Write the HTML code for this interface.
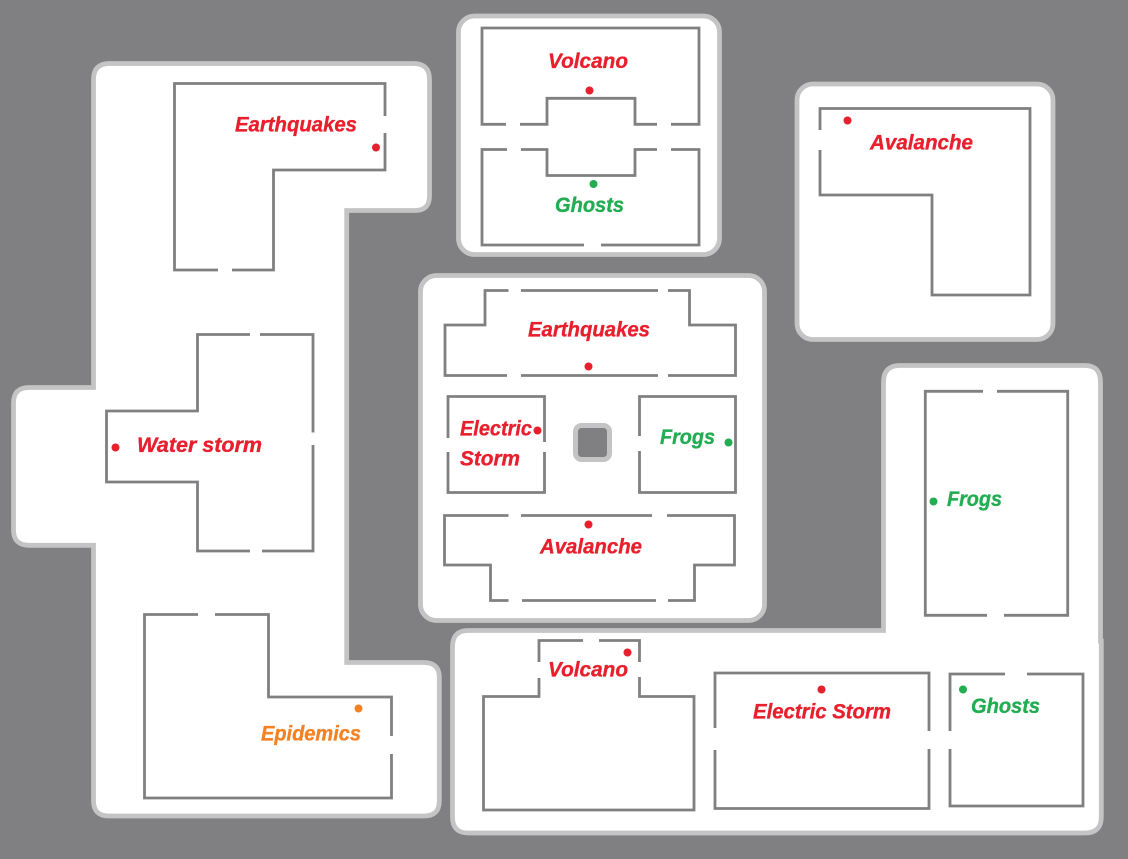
<!DOCTYPE html>
<html><head><meta charset="utf-8"><title>Map</title>
<style>
html,body{margin:0;padding:0;background:#807f81;width:1128px;height:859px;overflow:hidden}
svg{display:block}
.b{fill:#fff;stroke:#c4c4c5;stroke-width:4.800}
.w{fill:none;stroke:#808082;stroke-width:2.800}
text{font-family:"Liberation Sans",sans-serif;font-weight:bold;font-style:italic;font-size:21px}
g.r text,g.g text,text.o{stroke-width:.35}
g.r text{stroke:#e81f2d}g.g text{stroke:#22ad52}text.o{stroke:#f48224}
.r{fill:#e81f2d}.g{fill:#22ad52}.o{fill:#f48224}
</style></head><body>
<svg width="1128" height="859" viewBox="0 0 1128 859" xmlns="http://www.w3.org/2000/svg">
<rect width="1128" height="859" fill="#807f81"/>
<path class="b" d="M93.500,387.500V79.500Q93.500,63.500 109.500,63.500H413.500Q429.500,63.500 429.500,79.500V196Q429.500,210.500 415,210.500H346.700V662.500H424Q439.300,662.500 439.300,677.500V801Q439.300,816 424,816H109Q93.500,816 93.500,801V545.300H29Q13.500,545.300 13.500,530V403Q13.500,387.500 29,387.500Z"/>
<rect class="b" x="458.500" y="16" width="261" height="238.500" rx="16"/>
<rect class="b" x="797" y="84" width="256" height="255.500" rx="16"/>
<rect class="b" x="420.500" y="275.500" width="344" height="345" rx="16"/>
<path class="b" d="M883.500,630.500V382Q883.500,365.500 900,365.500H1085Q1100.500,365.500 1100.500,382V641H1101.300V817Q1101.300,833 1085,833H468Q452.500,833 452.500,817V647Q452.500,630.500 468,630.500Z"/>
<rect x="575.500" y="425.500" width="34" height="34" rx="6" fill="#808082" stroke="#c4c4c5" stroke-width="5"/>

<path class="w" d="M218,270H174.500V83.500H385V116M385,133V170H273.500V270H232"/>
<path class="w" d="M250,334.500H197.500V411H106.500V482H197.500V551H250M262,551H313V445M313,432.500V334.500H260"/>
<path class="w" d="M198,614.500H144.500V798H391.500V754M391.500,736V697H268.500V614.500H215"/>

<path class="w" d="M506,124.300H482V28H699V124.300H671M657,124.300H635V98.300H547V124.300H520"/>
<path class="w" d="M507,149.500H482V245H584M601,245H699V149.500H671M657,149.500H635V175.500H547V149.500H521"/>

<path class="w" d="M820,130V108.500H1030V295H932V195H820V150"/>

<path class="w" d="M508.500,290.500H485V325H445V375.500H507M521,375.500H658M668,375.500H735.500V325H689.500V290.500H668M658,290.500H521"/>
<path class="w" d="M448,438V396.500H544.500V442M544.500,452V492.500H448V452"/>
<path class="w" d="M639.500,436V396.500H735.500V492.500H639.500V451"/>
<path class="w" d="M508.500,515.500H444.500V565H490.500V600.500H508.500M522,600.500H656M668,600.500H694.500V565H734.500V515.500H667M652,515.500H521"/>

<path class="w" d="M983,391.300H925.300V615.300H987M1004,615.300H1067.700V391.300H997"/>

<path class="w" d="M583,640.500H539V662M539,678V696.500H483.500V810H694V696.500H639.500V677M639.500,662V640.500H599"/>
<path class="w" d="M715,728V673H929V731M929,749V808.500H715V750"/>
<path class="w" d="M950,731V674H1005M1027,674H1083V806H950V749"/>

<circle class="r" cx="376" cy="147.500" r="4"/>
<circle class="r" cx="589.500" cy="90.500" r="4"/>
<circle class="g" cx="593.500" cy="184" r="4"/>
<circle class="r" cx="847.500" cy="120.500" r="4"/>
<circle class="r" cx="588.500" cy="366.500" r="4"/>
<circle class="r" cx="537.500" cy="430.500" r="4"/>
<circle class="g" cx="728.500" cy="442.500" r="4"/>
<circle class="r" cx="588.500" cy="524.500" r="4"/>
<circle class="r" cx="115.500" cy="447.500" r="4"/>
<circle class="g" cx="933.500" cy="501.500" r="4"/>
<circle class="r" cx="627.500" cy="652.500" r="4"/>
<circle class="r" cx="821.500" cy="689.500" r="4"/>
<circle class="g" cx="963" cy="689.500" r="4"/>
<circle class="o" cx="358.500" cy="708.500" r="4"/>

<g class="r">
<text x="235" y="131.500" textLength="122" lengthAdjust="spacingAndGlyphs">Earthquakes</text>
<text x="548" y="68" textLength="80" lengthAdjust="spacingAndGlyphs">Volcano</text>
<text x="870" y="149.500" textLength="103" lengthAdjust="spacingAndGlyphs">Avalanche</text>
<text x="528" y="336.500" textLength="122" lengthAdjust="spacingAndGlyphs">Earthquakes</text>
<text x="460" y="435.500" textLength="72" lengthAdjust="spacingAndGlyphs">Electric</text>
<text x="460" y="465.500" textLength="60" lengthAdjust="spacingAndGlyphs">Storm</text>
<text x="540" y="553.500" textLength="102" lengthAdjust="spacingAndGlyphs">Avalanche</text>
<text x="137" y="452" textLength="125" lengthAdjust="spacingAndGlyphs">Water storm</text>
<text x="548" y="676.500" textLength="80" lengthAdjust="spacingAndGlyphs">Volcano</text>
<text x="753" y="718.500" textLength="138" lengthAdjust="spacingAndGlyphs">Electric Storm</text>
</g>
<g class="g">
<text x="555" y="212" textLength="69" lengthAdjust="spacingAndGlyphs">Ghosts</text>
<text x="660" y="444" textLength="55" lengthAdjust="spacingAndGlyphs">Frogs</text>
<text x="947" y="506" textLength="55" lengthAdjust="spacingAndGlyphs">Frogs</text>
<text x="971" y="713" textLength="69" lengthAdjust="spacingAndGlyphs">Ghosts</text>
</g>
<text class="o" x="261" y="740.500" textLength="100" lengthAdjust="spacingAndGlyphs">Epidemics</text>
</svg>
</body></html>
